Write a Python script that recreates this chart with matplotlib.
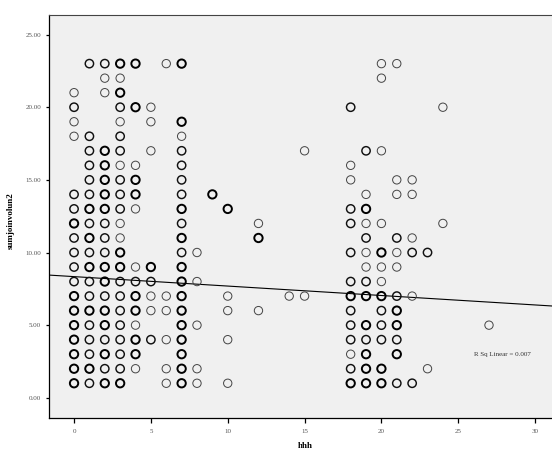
import numpy as np
import matplotlib
matplotlib.use('Agg')
from matplotlib import pyplot as plt

plt.rcParams['font.family'] = ['Liberation Serif', 'DejaVu Serif']

# hhh (x), sumjoinvolun2 (y), and how heavy the marker looks (overlap count)
x_vals = (
    [0]*18 + [1]*19 + [2]*20 + [3]*23 + [4]*14 + [5]*8 + [6]*6 + [7]*20
    + [8]*5 + [9] + [10]*5 + [12]*3 + [14] + [15]*2
    + [18]*14 + [19]*14 + [20]*13 + [21]*12 + [22]*6 + [23]*2 + [24]*2 + [27]
)
y_vals = [
    21, 20, 19, 18, 14, 13, 12, 11, 10, 9, 8, 7, 6, 5, 4, 3, 2, 1,                 # 0
    23, 18, 17, 16, 15, 14, 13, 12, 11, 10, 9, 8, 7, 6, 5, 4, 3, 2, 1,             # 1
    23, 22, 21, 17, 16, 15, 14, 13, 12, 11, 10, 9, 8, 7, 6, 5, 4, 3, 2, 1,         # 2
    23, 22, 21, 20, 19, 18, 17, 16, 15, 14, 13, 12, 11, 10, 9, 8, 7, 6, 5, 4, 3, 2, 1,  # 3
    23, 20, 16, 15, 14, 13, 9, 8, 7, 6, 5, 4, 3, 2,                               # 4
    20, 19, 17, 9, 8, 7, 6, 4,                                                    # 5
    23, 7, 6, 4, 2, 1,                                                            # 6
    23, 19, 18, 17, 16, 15, 14, 13, 12, 11, 10, 9, 8, 7, 6, 5, 4, 3, 2, 1,         # 7
    10, 8, 5, 2, 1,                                                               # 8
    14,                                                                           # 9
    13, 7, 6, 4, 1,                                                               # 10
    12, 11, 6,                                                                    # 12
    7,                                                                            # 14
    17, 7,                                                                        # 15
    20, 16, 15, 13, 12, 10, 8, 7, 6, 5, 4, 3, 2, 1,                               # 18
    17, 14, 13, 12, 11, 10, 9, 8, 7, 5, 4, 3, 2, 1,                               # 19
    23, 22, 17, 12, 10, 9, 8, 7, 6, 5, 4, 2, 1,                                   # 20
    23, 15, 14, 11, 10, 9, 7, 6, 5, 4, 3, 1,                                      # 21
    15, 14, 11, 10, 7, 1,                                                         # 22
    10, 2,                                                                        # 23
    20, 12,                                                                       # 24
    5,                                                                            # 27
]
n_vals = [
    1, 2, 1, 1, 2, 2, 3, 2, 2, 2, 2, 3, 3, 3, 3, 3, 3, 3,
    2, 2, 2, 2, 2, 2, 3, 2, 3, 2, 3, 2, 2, 3, 2, 2, 2, 3, 2,
    2, 1, 1, 3, 3, 3, 3, 3, 2, 2, 2, 3, 3, 2, 3, 3, 2, 3, 2, 3,
    3, 1, 3, 2, 1, 2, 2, 1, 2, 2, 2, 1, 1, 3, 3, 2, 2, 2, 2, 2, 2, 2, 3,
    3, 3, 1, 3, 3, 1, 1, 2, 3, 3, 1, 3, 3, 1,
    1, 1, 1, 3, 2, 1, 1, 2,
    1, 1, 1, 1, 1, 1,
    3, 3, 1, 2, 2, 2, 2, 3, 2, 3, 2, 3, 3, 3, 3, 3, 3, 3, 3, 3,
    1, 1, 1, 1, 1,
    3,
    3, 1, 1, 1, 1,
    1, 3, 1,
    1,
    1, 1,
    2, 1, 1, 2, 2, 2, 2, 3, 2, 2, 2, 1, 2, 3,
    2, 1, 3, 1, 2, 1, 1, 2, 3, 3, 2, 3, 3, 3,
    1, 1, 1, 1, 3, 1, 1, 3, 2, 2, 2, 3, 3,
    1, 1, 1, 2, 1, 1, 2, 3, 3, 2, 3, 2,
    1, 1, 1, 2, 1, 2,
    2, 1,
    1, 1,
    1,
]

# linear fit
fit_intercept = 8.34
fit_slope = -0.065
r_sq = 0.007

x_ticks = [0, 5, 10, 15, 20, 25, 30]
y_ticks = [0, 5, 10, 15, 20, 25]

x = np.array(x_vals)
y = np.array(y_vals)
n = np.array(n_vals)

fig = plt.figure(figsize=(5.52, 4.5), dpi=100)
ax = fig.add_axes([0.0882, 0.0718, 0.9118, 0.8956])
ax.set_facecolor('#f0f0f0')

widths = {1: 0.7, 2: 1.05, 3: 1.4}
colors = {1: '#444444', 2: '#111111', 3: '#000000'}
for k in (1, 2, 3):
    m = n == k
    ax.scatter(x[m], y[m], s=36, facecolors='none', edgecolors=colors[k],
               linewidths=widths[k], zorder=3)

x_lo, x_hi = -1.65, 31.1
xx = np.array([x_lo, x_hi])
ax.plot(xx, fit_intercept + fit_slope * xx, color='black', lw=0.8, zorder=2)

ax.set_xlim(x_lo, x_hi)
ax.set_ylim(-1.37, 26.37)

ax.set_xticks(x_ticks)
ax.set_xticklabels([str(t) for t in x_ticks])
ax.set_yticks(y_ticks)
ax.set_yticklabels(['{:.2f}'.format(t) for t in y_ticks])
ax.tick_params(axis='x', length=3.5, width=0.9, pad=5, labelsize=5, labelcolor='#555555')
ax.tick_params(axis='y', length=2.5, width=0.9, pad=3, labelsize=5, labelcolor='#555555')

ax.spines['right'].set_visible(False)
ax.spines['top'].set_color('#444444')
ax.spines['top'].set_linewidth(0.8)
ax.spines['left'].set_linewidth(0.9)
ax.spines['bottom'].set_linewidth(0.9)

ax.set_ylabel('sumjoinvolun2', fontsize=6.5, fontweight='bold')
ax.yaxis.set_label_coords(-0.068, 0.49)
ax.set_xlabel('hhh', fontsize=6.5, fontweight='bold', va='top')
ax.xaxis.set_label_coords(0.509, -0.061)

ax.text(27.9, 2.95, 'R Sq Linear = {:.3f}'.format(r_sq), fontsize=5,
        color='#333333', ha='center', va='center')

fig.savefig('out.png', dpi=100)
